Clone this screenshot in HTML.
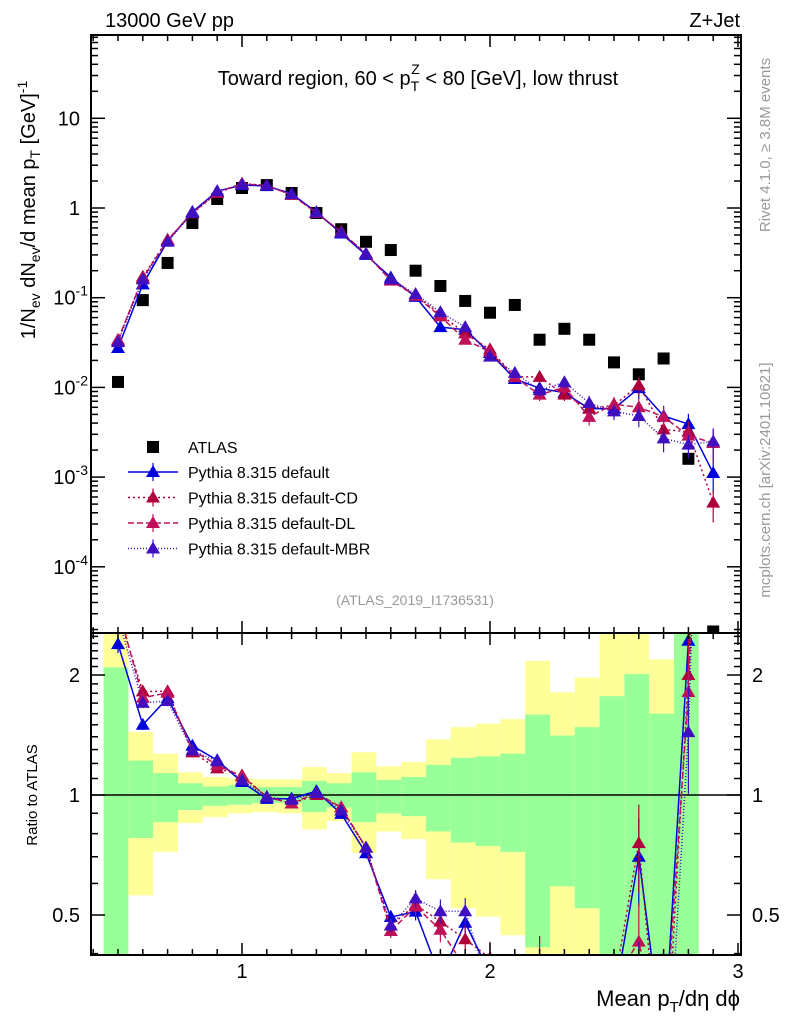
<!DOCTYPE html>
<html><head><meta charset="utf-8"><style>
html,body{margin:0;background:#fff;overflow:hidden;width:786px;height:1024px}
svg{display:block;font-family:"Liberation Sans",sans-serif}
</style></head><body>
<svg id="c" width="786" height="1024" xmlns="http://www.w3.org/2000/svg">
<defs>
<clipPath id="cm"><rect x="91" y="35" width="650" height="598"/></clipPath>
<clipPath id="cr"><rect x="91" y="633" width="650" height="322"/></clipPath>
</defs>
<g id="bands" clip-path="url(#cr)"></g>
<g id="main" clip-path="url(#cm)"></g>
<g id="ratio" clip-path="url(#cr)"></g>
<g id="axes"></g>
<text x="105" y="27" font-size="20">13000 GeV pp</text>
<text x="740" y="27" font-size="20" text-anchor="end">Z+Jet</text>
<text x="418" y="85" font-size="20" text-anchor="middle">Toward region, 60 &lt; p<tspan font-size="14" dy="6">T</tspan><tspan font-size="14" dx="-8" dy="-17">Z</tspan><tspan dy="11"> &lt; 80 [GeV], low thrust</tspan></text>
<text transform="translate(35,210) rotate(-90)" font-size="20" text-anchor="middle">1/N<tspan font-size="14" dy="5">ev</tspan><tspan dy="-5"> dN</tspan><tspan font-size="14" dy="5">ev</tspan><tspan dy="-5">/d mean p</tspan><tspan font-size="14" dy="5">T</tspan><tspan dy="-5"> [GeV]</tspan><tspan font-size="14" dy="-8">-1</tspan></text>
<text transform="translate(770,145) rotate(-90)" font-size="15" fill="#999" text-anchor="middle">Rivet 4.1.0, ≥ 3.8M events</text>
<text transform="translate(770,480) rotate(-90)" font-size="15" fill="#999" text-anchor="middle">mcplots.cern.ch [arXiv:2401.10621]</text>
<text x="415" y="605" font-size="14" fill="#999" text-anchor="middle">(ATLAS_2019_I1736531)</text>
<text transform="translate(37,795) rotate(-90)" font-size="15" text-anchor="middle">Ratio to ATLAS</text>
<text x="740" y="1006" font-size="22" text-anchor="end">Mean p<tspan font-size="15" dy="6">T</tspan><tspan dy="-6">/dη dϕ</tspan></text>
<g id="legend"></g>
</svg>
<script>
const xs=[0.5,0.6,0.7,0.8,0.9,1.0,1.1,1.2,1.3,1.4,1.5,1.6,1.7,1.8,1.9,2.0,2.1,2.2,2.3,2.4,2.5,2.6,2.7,2.8,2.9];
const atlas=[0.0115,0.094,0.244,0.68,1.26,1.67,1.80,1.47,0.88,0.58,0.42,0.34,0.20,0.135,0.092,0.068,0.083,0.034,0.045,0.034,0.019,0.014,0.021,0.0016,0.000019];
const pyDefault=[0.0275,0.141,0.427,0.904,1.54,1.80,1.76,1.44,0.90,0.52,0.30,0.168,0.102,0.047,0.044,0.0242,0.0124,0.0098,0.0087,0.0058,0.0058,0.0098,0.0048,0.0039,0.00111];
const pyCD=[0.033,0.171,0.444,0.87,1.47,1.87,1.78,1.40,0.88,0.54,0.31,0.16,0.106,0.065,0.040,0.0265,0.0131,0.0131,0.0083,0.0058,0.0063,0.0106,0.0034,0.0032,0.00052];
const pyDL=[0.034,0.165,0.44,0.88,1.5,1.86,1.78,1.40,0.89,0.54,0.31,0.155,0.105,0.062,0.034,0.025,0.013,0.0083,0.0100,0.0047,0.0065,0.0060,0.0047,0.0029,0.0024];
const pyMBR=[0.032,0.160,0.42,0.88,1.53,1.82,1.78,1.43,0.89,0.53,0.31,0.16,0.11,0.069,0.047,0.022,0.0145,0.0093,0.0114,0.0067,0.0054,0.0048,0.0027,0.0023,0.0025];
const relErr=[0.05,0.03,0.03,0.02,0.02,0.02,0.02,0.02,0.02,0.02,0.03,0.04,0.05,0.07,0.08,0.10,0.12,0.15,0.15,0.2,0.2,0.25,0.3,0.3,0.4];
const yelHi=[3,1.44,1.27,1.14,1.11,1.10,1.095,1.095,1.175,1.135,1.28,1.18,1.21,1.38,1.48,1.51,1.55,2.17,1.81,1.97,3,3,2.19,3];
const grnHi=[2.09,1.22,1.135,1.07,1.05,1.06,1.047,1.047,1.085,1.07,1.14,1.09,1.11,1.19,1.24,1.25,1.27,1.59,1.41,1.48,1.77,2.01,1.6,3];
const grnLo=[0.3,0.78,0.855,0.917,0.94,0.945,0.955,0.955,0.906,0.93,0.855,0.9,0.885,0.81,0.76,0.745,0.72,0.415,0.59,0.52,0.3,0.3,0.3,0.3];
const yelLo=[0.3,0.56,0.72,0.85,0.88,0.90,0.906,0.90,0.82,0.86,0.715,0.81,0.775,0.615,0.52,0.495,0.445,0.3,0.3,0.3,0.3,0.3,0.3,0.3];
const yTicksMain=[10,1,0.1,0.01,0.001,0.0001];
const yTickLabels=["10","1","10<tspan font-size='14' dy='-9'>-1</tspan>","10<tspan font-size='14' dy='-9'>-2</tspan>","10<tspan font-size='14' dy='-9'>-3</tspan>","10<tspan font-size='14' dy='-9'>-4</tspan>"];
const ratioTicks=[2,1,0.5];
const xTicks=[1,2,3];

const NS="http://www.w3.org/2000/svg";
const X=v=>-6+248*v;
const Y=v=>208-89.7*Math.log10(v);
const R=v=>795-120*Math.log2(v);
function mk(p,tag,at){const e=document.createElementNS(NS,tag);for(const k in at)e.setAttribute(k,at[k]);p.appendChild(e);return e;}
const bands=document.getElementById('bands'),main=document.getElementById('main'),ratio=document.getElementById('ratio'),axes=document.getElementById('axes'),leg=document.getElementById('legend');

for(let i=0;i<yelHi.length;i++){
  const x0=X(xs[i]-0.05)-2,x1=X(xs[i]+0.05)-2;
  let r=mk(bands,'rect',{x:x0,y:R(yelHi[i]),width:x1-x0,height:R(yelLo[i])-R(yelHi[i]),fill:'#ffff99'});
  
  
  r=mk(bands,'rect',{x:x0,y:R(grnHi[i]),width:x1-x0,height:R(grnLo[i])-R(grnHi[i]),fill:'#99ff99'});
  
  
}
mk(bands,'line',{x1:91,x2:741,y1:795,y2:795,stroke:'#000','stroke-width':1.5});

atlas.forEach((v,i)=>{
  const s=mk(main,'rect',{x:X(xs[i])-6,y:Y(v)-6,width:12,height:12,fill:'#000'});
  
  
});

const series=[
 {d:pyDefault,c:'#0000dd',dash:'',name:'Pythia 8.315 default',key:'default'},
 {d:pyCD,c:'#b0003a',dash:'2,3',name:'Pythia 8.315 default-CD',key:'cd'},
 {d:pyDL,c:'#c0105a',dash:'6,3',name:'Pythia 8.315 default-DL',key:'dl'},
 {d:pyMBR,c:'#4010c0',dash:'1,2',name:'Pythia 8.315 default-MBR',key:'mbr'}];
function tri(g,x,y,c){return mk(g,'path',{d:`M${x},${y-7}L${x+7},${y+5}L${x-7},${y+5}Z`,fill:c});}
series.forEach(s=>{
  const pts=s.d.map((v,i)=>X(xs[i])+','+Y(v)).join(' ');
  let l=mk(main,'polyline',{points:pts,fill:'none',stroke:s.c,'stroke-width':1.5,'stroke-dasharray':s.dash});
  
  
  const rp=s.d.map((v,i)=>X(xs[i])+','+R(v/atlas[i])).join(' ');
  l=mk(ratio,'polyline',{points:rp,fill:'none',stroke:s.c,'stroke-width':1.5,'stroke-dasharray':s.dash});
  
  
  s.d.forEach((v,i)=>{
    const x=X(xs[i]),e=relErr[i];
    mk(main,'line',{x1:x,x2:x,y1:Y(v*(1+e)),y2:Y(v*(1-e)),stroke:s.c,'stroke-width':1.2});
    let t=tri(main,x,Y(v),s.c);
    
    
    const r=v/atlas[i];
    mk(ratio,'line',{x1:x,x2:x,y1:R(r*(1+e)),y2:R(r*(1-e)),stroke:s.c,'stroke-width':1.2});
    t=tri(ratio,x,R(r),s.c);
    
    
  });
});

[[35,633],[633,955]].forEach(([t,b])=>{
  const f=mk(axes,'rect',{x:91,y:t,width:650,height:b-t,fill:'none',stroke:'#000','stroke-width':2});
  
  
  for(let k=4;k<=30;k++){const x=X(k/10);if(x<92||x>740)continue;const L=(k%10==0)?12:6;
    mk(axes,'line',{x1:x,x2:x,y1:t,y2:t+L,stroke:'#000','stroke-width':1.5});
    mk(axes,'line',{x1:x,x2:x,y1:b,y2:b-L,stroke:'#000','stroke-width':1.5});}
});
for(let d=-5;d<=1;d++)for(let m=1;m<=9;m++){const v=m*Math.pow(10,d),y=Y(v);if(y<36||y>632)continue;const L=m==1?14:7;
  mk(axes,'line',{x1:91,x2:91+L,y1:y,y2:y,stroke:'#000','stroke-width':1.5});
  mk(axes,'line',{x1:741,x2:741-L,y1:y,y2:y,stroke:'#000','stroke-width':1.5});}
yTicksMain.forEach((v,i)=>{const ax=v<1?88:80;const t=mk(axes,'text',{x:ax,y:Y(v)+7,'font-size':20,'text-anchor':'end'});t.innerHTML=yTickLabels[i];
  
  });
for(let k=4;k<=25;k++){const v=k/10,y=R(v);if(y<634||y>954)continue;const L=(k==5||k==10||k==20)?14:7;
  mk(axes,'line',{x1:91,x2:91+L,y1:y,y2:y,stroke:'#000','stroke-width':1.5});
  mk(axes,'line',{x1:741,x2:741-L,y1:y,y2:y,stroke:'#000','stroke-width':1.5});}
ratioTicks.forEach(v=>{[[80,'end'],[752,'start']].forEach(([x,a])=>{const t=mk(axes,'text',{x:x,y:R(v)+7,'font-size':20,'text-anchor':a});t.textContent=String(v);
  
  });});
xTicks.forEach(v=>{const t=mk(axes,'text',{x:X(v),y:978,'font-size':20,'text-anchor':'middle'});t.textContent=String(v);
  
  });

let ly=447;
let e=mk(leg,'rect',{x:147,y:ly-6,width:12,height:12,fill:'#000'});


e=mk(leg,'text',{x:188,y:ly+6,'font-size':16});e.textContent='ATLAS';


series.forEach((s,i)=>{const y=472+i*25.5;
  mk(leg,'line',{x1:128,x2:178,y1:y,y2:y,stroke:s.c,'stroke-width':1.5,'stroke-dasharray':s.dash});
  mk(leg,'line',{x1:153,x2:153,y1:y-9,y2:y+9,stroke:s.c,'stroke-width':1.2});
  tri(leg,153,y,s.c);
  const t=mk(leg,'text',{x:188,y:y+6,'font-size':16});t.textContent=s.name;
  
  });
</script>
</body></html>
